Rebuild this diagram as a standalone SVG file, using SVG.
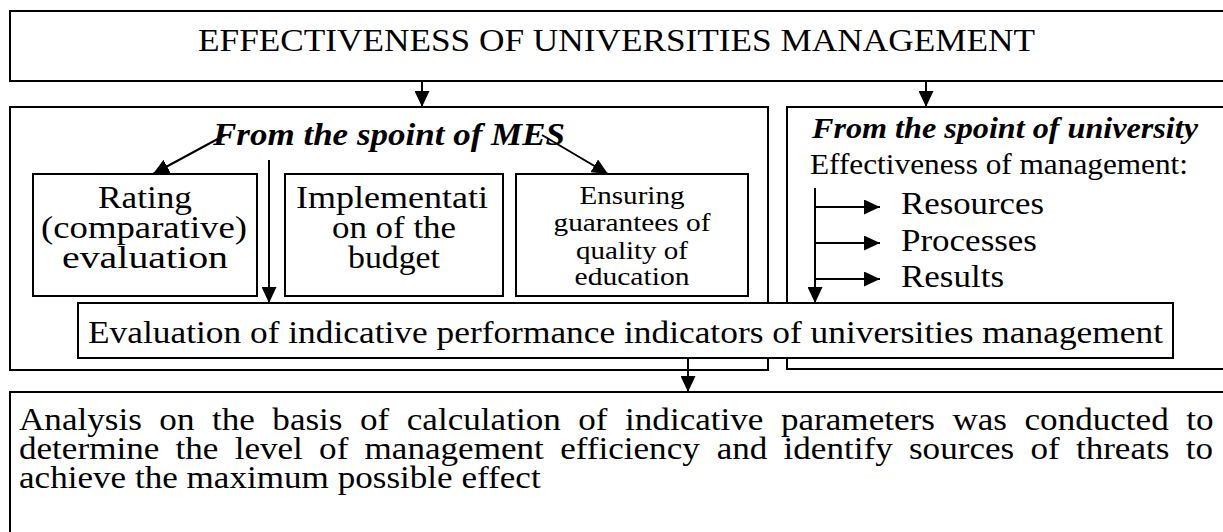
<svg xmlns="http://www.w3.org/2000/svg" width="1223" height="532" viewBox="0 0 1223 532">
<style>
.box{fill:#fff;stroke:#000;stroke-width:2}
.ln{fill:none;stroke:#000;stroke-width:2}
text{font-family:"Liberation Serif","Times New Roman",serif;fill:#000}
.c{text-anchor:middle}
.bi{font-weight:bold;font-style:italic}
</style>
<defs>
<marker id="ah" markerUnits="userSpaceOnUse" markerWidth="16" markerHeight="15" refX="16" refY="7.5" orient="auto">
<path d="M0,0 L16,7.5 L0,15 Z" fill="#000"/>
</marker>
</defs>
<rect width="1223" height="532" fill="#fff"/>
<g id="top">
<rect class="box" x="10" y="11" width="1225" height="70"/>
<text class="c" x="616.5" y="51" font-size="32" textLength="837" lengthAdjust="spacingAndGlyphs">EFFECTIVENESS OF UNIVERSITIES MANAGEMENT</text>
</g>
<g id="mes">
<rect class="box" x="10" y="107" width="758" height="263"/>
<text class="c bi" x="389" y="145" font-size="31" textLength="352" lengthAdjust="spacingAndGlyphs">From the spoint of MES</text>
</g>
<g id="univ">
<rect class="box" x="787" y="107" width="450" height="262"/>
<text class="bi" x="812" y="138" font-size="29" textLength="386" lengthAdjust="spacingAndGlyphs">From the spoint of university</text>
<text x="810" y="174" font-size="28.5" textLength="378" lengthAdjust="spacingAndGlyphs">Effectiveness of management:</text>
<text x="901" y="214" font-size="31" textLength="143" lengthAdjust="spacingAndGlyphs">Resources</text>
<text x="901" y="251" font-size="31" textLength="136" lengthAdjust="spacingAndGlyphs">Processes</text>
<text x="901" y="287" font-size="31" textLength="103" lengthAdjust="spacingAndGlyphs">Results</text>
</g>
<g id="rating">
<rect class="box" x="33" y="174" width="224" height="122"/>
<text class="c" x="145" y="207.5" font-size="31" textLength="94" lengthAdjust="spacingAndGlyphs">Rating</text>
<text class="c" x="144" y="237.5" font-size="31" textLength="206" lengthAdjust="spacingAndGlyphs">(comparative)</text>
<text class="c" x="145" y="267.5" font-size="31" textLength="166" lengthAdjust="spacingAndGlyphs">evaluation</text>
</g>
<g id="budget">
<rect class="box" x="285" y="174" width="218" height="122"/>
<text class="c" x="392" y="207.5" font-size="31" textLength="192" lengthAdjust="spacingAndGlyphs">Implementati</text>
<text class="c" x="394" y="237.5" font-size="31" textLength="124" lengthAdjust="spacingAndGlyphs">on of the</text>
<text class="c" x="394" y="267.5" font-size="31" textLength="92" lengthAdjust="spacingAndGlyphs">budget</text>
</g>
<g id="quality">
<rect class="box" x="516" y="174" width="232" height="122"/>
<text class="c" x="632" y="204" font-size="26" textLength="105" lengthAdjust="spacingAndGlyphs">Ensuring</text>
<text class="c" x="632" y="231" font-size="26" textLength="157" lengthAdjust="spacingAndGlyphs">guarantees of</text>
<text class="c" x="632" y="259" font-size="26" textLength="112" lengthAdjust="spacingAndGlyphs">quality of</text>
<text class="c" x="632" y="285" font-size="26" textLength="115" lengthAdjust="spacingAndGlyphs">education</text>
</g>
<g id="connectors">
<line class="ln" x1="422" y1="81" x2="422" y2="107" marker-end="url(#ah)"/>
<line class="ln" x1="926" y1="81" x2="926" y2="107" marker-end="url(#ah)"/>
<line class="ln" x1="225" y1="135" x2="153" y2="174" marker-end="url(#ah)"/>
<line class="ln" x1="542" y1="135" x2="608" y2="174" marker-end="url(#ah)"/>
<line class="ln" x1="269" y1="160" x2="269" y2="303" marker-end="url(#ah)"/>
<line class="ln" x1="815" y1="188" x2="815" y2="303" marker-end="url(#ah)"/>
<line class="ln" x1="815" y1="207" x2="880" y2="207" marker-end="url(#ah)"/>
<line class="ln" x1="815" y1="243" x2="880" y2="243" marker-end="url(#ah)"/>
<line class="ln" x1="815" y1="279" x2="880" y2="279" marker-end="url(#ah)"/>
<line class="ln" x1="688" y1="358" x2="688" y2="392" marker-end="url(#ah)"/>
</g>
<g id="eval">
<rect class="box" x="78" y="303" width="1095" height="55"/>
<text class="c" x="625.5" y="343" font-size="32" textLength="1075" lengthAdjust="spacingAndGlyphs">Evaluation of indicative performance indicators of universities management</text>
</g>
<g id="analysis">
<rect class="box" x="10" y="392" width="1225" height="150"/>
<text font-size="32" transform="translate(0,430) scale(1.097,1)"><tspan x="17.32">Analysis</tspan><tspan x="145.26">on</tspan><tspan x="193.21">the</tspan><tspan x="248.27">basis</tspan><tspan x="328.21">of</tspan><tspan x="370.82">calculation</tspan><tspan x="527.18">of</tspan><tspan x="569.78">indicative</tspan><tspan x="711.92">parameters</tspan><tspan x="868.24">was</tspan><tspan x="933.94">conducted</tspan><tspan x="1081.4">to</tspan></text>
<text font-size="32" transform="translate(0,459) scale(1.097,1)"><tspan x="17.32">determine</tspan><tspan x="160.05">the</tspan><tspan x="213.92">level</tspan><tspan x="290.89">of</tspan><tspan x="332.32">management</tspan><tspan x="510.61">efficiency</tspan><tspan x="653.3">and</tspan><tspan x="714.28">identify</tspan><tspan x="828.6">sources</tspan><tspan x="939.33">of</tspan><tspan x="980.76">threats</tspan><tspan x="1080.84">to</tspan></text>
<text font-size="32" transform="translate(0,488) scale(1.097,1)" x="17.32">achieve the maximum possible effect</text>
</g>
</svg>
